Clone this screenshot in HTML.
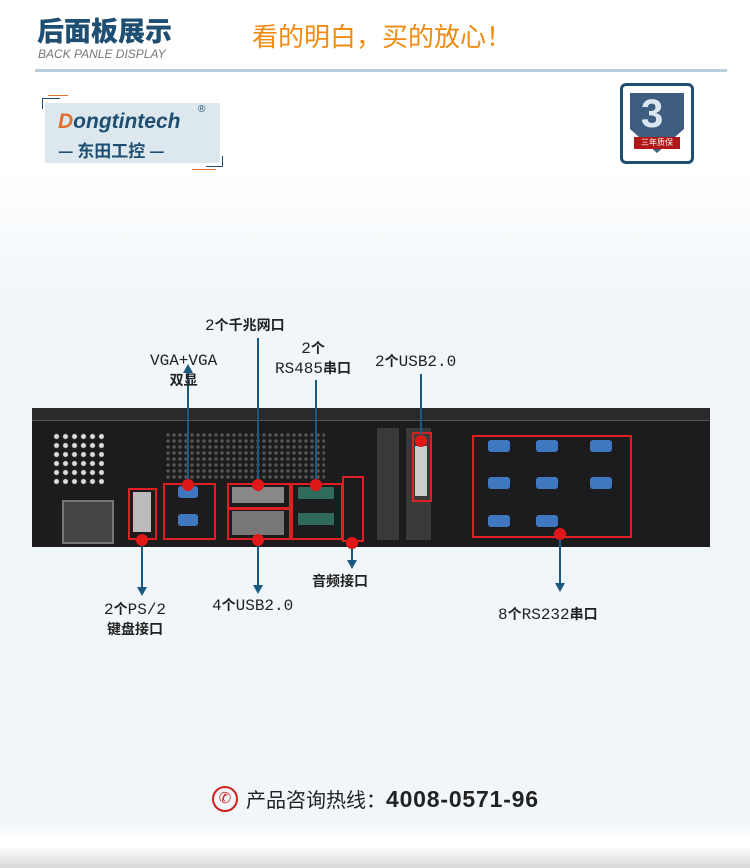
<!DOCTYPE html>
<html><head><meta charset="utf-8"><style>
body{margin:0;width:750px;height:868px;overflow:hidden;background:linear-gradient(#fff 0,#fff 170px,#f1f6fa 300px,#f1f6fa 820px,#fff 840px);font-family:"Liberation Sans","Noto Sans CJK SC",sans-serif;position:relative}
.a{position:absolute}
.lab{position:absolute;font-family:"Liberation Mono","Noto Sans CJK SC",monospace;font-size:16px;color:#222;text-align:center;white-space:nowrap;line-height:19px}
.lab b{font-family:"Noto Sans CJK SC",sans-serif;font-size:14px}
.box{position:absolute;border:2px solid #e02020;box-sizing:border-box}
.dot{position:absolute;width:12px;height:12px;border-radius:50%;background:#e01818;margin:-6px 0 0 -6px}
.vl{position:absolute;width:2px;background:#1a5a80;margin-left:-1px}
.port{position:absolute;background:#3f78c0;border-radius:3px}
</style></head><body>
<div class="a" style="left:37px;top:12px;font-size:27px;font-weight:900;color:#1e4f72;font-family:'Noto Sans CJK SC',sans-serif;line-height:36px">后面板展示</div>
<div class="a" style="left:38px;top:47px;font-size:12px;color:#777;font-style:italic">BACK PANLE DISPLAY</div>
<div class="a" style="left:252px;top:18px;font-size:26px;color:#f08a10;font-family:'Noto Sans CJK SC',sans-serif;line-height:36px">看的明白，买的放心！</div>
<div class="a" style="left:35px;top:69px;width:692px;height:3px;background:#b8cfdc"></div>
<div class="a" style="left:45px;top:103px;width:175px;height:60px;background:#dce8ee"></div>
<div class="a" style="left:42px;top:98px;width:17px;height:10px;border-left:1px solid #1e4f72;border-top:1px solid #1e4f72"></div>
<div class="a" style="left:48px;top:95px;width:20px;border-top:1px solid #e07030"></div>
<div class="a" style="left:206px;top:156px;width:16px;height:10px;border-right:1px solid #1e4f72;border-bottom:1px solid #1e4f72"></div>
<div class="a" style="left:192px;top:169px;width:24px;border-top:1px solid #e07030"></div>
<div class="a" style="left:58px;top:110px;font-size:21px;font-weight:bold;font-style:italic;color:#1e4f72"><span style="color:#e07030">D</span>ongtintech</div>
<div class="a" style="left:198px;top:104px;font-size:10px;color:#1e4f72">®</div>
<div class="a" style="left:58px;top:137px;font-size:17px;font-weight:bold;color:#1e4f72;font-family:'Noto Sans CJK SC',sans-serif">— 东田工控 —</div>
<div class="a" style="left:620px;top:83px;width:74px;height:81px;border:3px solid #1e4f72;border-radius:6px;background:#fff;box-sizing:border-box"></div>
<div class="a" style="left:630px;top:93px;width:54px;height:60px;background:#3d5e80;clip-path:polygon(0 0,100% 0,100% 60%,50% 100%,0 60%)"></div>
<div class="a" style="left:641px;top:92px;font-size:40px;font-weight:bold;color:#dde6f0">3</div>
<div class="a" style="left:634px;top:137px;width:46px;height:12px;background:#b01818;color:#fff;font-size:8px;text-align:center;line-height:12px;font-family:'Noto Sans CJK SC',sans-serif">三年质保</div>

<div class="a" style="left:32px;top:408px;width:678px;height:139px;background:#1c1c1e"></div>
<div class="a" style="left:32px;top:408px;width:678px;height:12px;background:#2a2a2c;border-bottom:1px solid #555"></div>
<div class="a" style="left:52px;top:432px;width:52px;height:55px;background:radial-gradient(circle,#ddd 2px,transparent 3px) 0 0/9px 9px"></div>
<div class="a" style="left:165px;top:432px;width:160px;height:48px;background:radial-gradient(circle,#555 1.5px,transparent 2px) 0 0/6px 6px"></div>
<div class="a" style="left:62px;top:500px;width:48px;height:40px;background:#444;border:2px solid #777"></div>
<div class="a" style="left:377px;top:428px;width:22px;height:112px;background:#3a3a3a"></div>
<div class="a" style="left:406px;top:428px;width:25px;height:112px;background:#3a3a3a"></div>
<div class="port" style="left:488px;top:440px;width:22px;height:12px"></div>
<div class="port" style="left:536px;top:440px;width:22px;height:12px"></div>
<div class="port" style="left:590px;top:440px;width:22px;height:12px"></div>
<div class="port" style="left:488px;top:477px;width:22px;height:12px"></div>
<div class="port" style="left:536px;top:477px;width:22px;height:12px"></div>
<div class="port" style="left:590px;top:477px;width:22px;height:12px"></div>
<div class="port" style="left:488px;top:515px;width:22px;height:12px"></div>
<div class="port" style="left:536px;top:515px;width:22px;height:12px"></div>
<div class="port" style="left:178px;top:486px;width:20px;height:12px"></div>
<div class="port" style="left:178px;top:514px;width:20px;height:12px"></div>
<div class="a" style="left:133px;top:492px;width:18px;height:40px;background:#bbb"></div>
<div class="a" style="left:232px;top:487px;width:52px;height:16px;background:#888"></div>
<div class="a" style="left:232px;top:511px;width:52px;height:24px;background:#777"></div>
<div class="a" style="left:298px;top:487px;width:36px;height:12px;background:#2f6a5a"></div>
<div class="a" style="left:298px;top:513px;width:36px;height:12px;background:#2f6a5a"></div>
<div class="a" style="left:415px;top:446px;width:12px;height:50px;background:#ccc"></div>

<div class="box" style="left:128px;top:488px;width:29px;height:52px"></div>
<div class="box" style="left:163px;top:483px;width:53px;height:57px"></div>
<div class="box" style="left:227px;top:483px;width:64px;height:26px"></div>
<div class="box" style="left:227px;top:508px;width:64px;height:32px"></div>
<div class="box" style="left:291px;top:483px;width:52px;height:57px"></div>
<div class="box" style="left:342px;top:476px;width:22px;height:66px"></div>
<div class="box" style="left:412px;top:432px;width:20px;height:70px"></div>
<div class="box" style="left:472px;top:435px;width:160px;height:103px"></div>

<div class="vl" style="left:188px;top:372px;height:112px"></div>
<div class="a" style="left:183px;top:364px;border:5px solid transparent;border-bottom:9px solid #1a5a80;border-top:0"></div>
<div class="vl" style="left:258px;top:338px;height:146px"></div>
<div class="vl" style="left:316px;top:380px;height:104px"></div>
<div class="vl" style="left:421px;top:374px;height:66px"></div>
<div class="vl" style="left:142px;top:540px;height:48px"></div>
<div class="a" style="left:137px;top:587px;border:5px solid transparent;border-top:9px solid #1a5a80;border-bottom:0"></div>
<div class="vl" style="left:258px;top:540px;height:46px"></div>
<div class="a" style="left:253px;top:585px;border:5px solid transparent;border-top:9px solid #1a5a80;border-bottom:0"></div>
<div class="vl" style="left:352px;top:543px;height:18px"></div>
<div class="a" style="left:347px;top:560px;border:5px solid transparent;border-top:9px solid #1a5a80;border-bottom:0"></div>
<div class="vl" style="left:560px;top:534px;height:50px"></div>
<div class="a" style="left:555px;top:583px;border:5px solid transparent;border-top:9px solid #1a5a80;border-bottom:0"></div>

<div class="dot" style="left:142px;top:540px"></div>
<div class="dot" style="left:188px;top:485px"></div>
<div class="dot" style="left:258px;top:485px"></div>
<div class="dot" style="left:258px;top:540px"></div>
<div class="dot" style="left:316px;top:485px"></div>
<div class="dot" style="left:352px;top:543px"></div>
<div class="dot" style="left:421px;top:441px"></div>
<div class="dot" style="left:560px;top:534px"></div>

<div class="lab" style="left:205px;top:316px">2<b>个千兆网口</b></div>
<div class="lab" style="left:150px;top:352px">VGA+VGA<br><b>双显</b></div>
<div class="lab" style="left:275px;top:339px">2<b>个</b><br>RS485<b>串口</b></div>
<div class="lab" style="left:375px;top:352px">2<b>个</b>USB2.0</div>
<div class="lab" style="left:104px;top:600px">2<b>个</b>PS/2<br><b>键盘接口</b></div>
<div class="lab" style="left:212px;top:596px">4<b>个</b>USB2.0</div>
<div class="lab" style="left:312px;top:572px"><b>音频接口</b></div>
<div class="lab" style="left:498px;top:605px">8<b>个</b>RS232<b>串口</b></div>

<div class="a" style="left:212px;top:786px;width:26px;height:26px;border-radius:50%;border:2px solid #d02020;box-sizing:border-box;color:#d02020;font-size:15px;text-align:center;line-height:22px">✆</div>
<div class="a" style="left:246px;top:784px;font-size:20px;color:#222;font-family:'Noto Sans CJK SC',sans-serif;line-height:30px">产品咨询热线：<b style="font-family:'Liberation Sans';font-size:23px;letter-spacing:0.8px">4008-0571-96</b></div>
<div class="a" style="left:0;top:846px;width:750px;height:22px;background:linear-gradient(#fff,#d8d8d8)"></div>
</body></html>
